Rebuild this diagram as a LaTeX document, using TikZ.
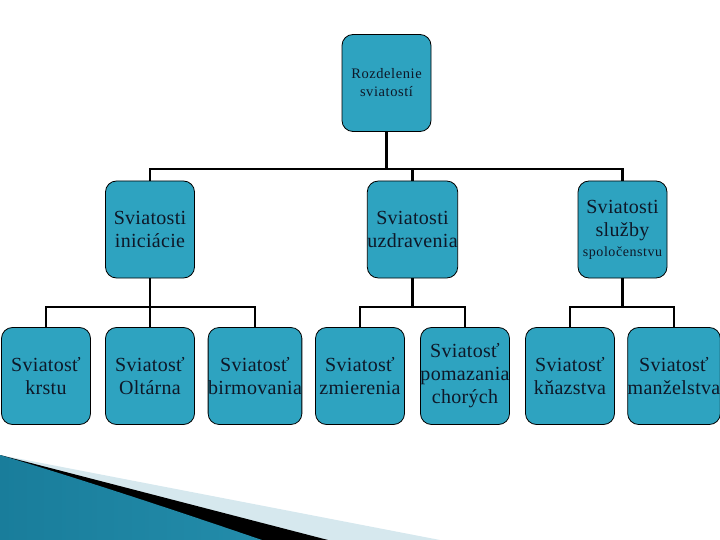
\documentclass[tikz,border=0pt]{standalone}
\usepackage{fontspec}
\setmainfont{Liberation Serif}
\definecolor{boxblue}{RGB}{46,163,192}
\definecolor{txt}{RGB}{14,24,40}
\definecolor{swdark}{RGB}{25,125,155}
\definecolor{swlight}{RGB}{95,190,220}
\definecolor{swright}{RGB}{35,140,170}
\definecolor{swpale}{RGB}{214,232,238}
\begin{document}
\begin{tikzpicture}[x=1pt,y=-1pt,
  box/.style={draw=black,line width=0.8pt,fill=boxblue,rounded corners=11pt,
    minimum width=89pt,minimum height=97pt,align=center,inner sep=0pt,text=txt,
    font=\fontsize{20}{23}\selectfont\addfontfeature{LetterSpace=1.5}},
  topbox/.style={box,font=\fontsize{14.5}{18}\selectfont\addfontfeature{LetterSpace=4}},
  conn/.style={draw=black,line width=2.8pt}]
\useasboundingbox (0,0) rectangle (720,540);
% decorative swoosh
\fill[swpale] (0,455) -- (440,540) -- (0,540) -- cycle;
\fill[black] (0,455) -- (328,540) -- (0,540) -- cycle;
\shade[left color=swdark,middle color=swlight,right color=swright]
  (0,455) .. controls (90,482) and (180,512) .. (262,540) -- (0,540) -- cycle;
% nodes
\node[topbox] (top) at (386.5,83) {Rozdelenie\\ sviatostí};
\node[box] (ini) at (150,229.5) {Sviatosti\\ iniciácie};
\node[box] (uzd) at (412.5,229.5) {Sviatosti\\ uzdravenia};
\node[box] (slu) at (622.5,229.5) {Sviatosti\\ služby\\[-3pt]{\fontsize{14}{16}\selectfont\addfontfeature{LetterSpace=4}spoločenstvu}};
\node[box] (krs) at (46,376) {Sviatosť\\ krstu};
\node[box] (olt) at (150,376) {Sviatosť\\ Oltárna};
\node[box] (bir) at (255,376) {Sviatosť\\ birmovania};
\node[box] (zmi) at (360,376) {Sviatosť\\ zmierenia};
\node[box] (pom) at (465,376) {Sviatosť\\ pomazania\\ chorých};
\node[box] (kna) at (570,376) {Sviatosť\\ kňazstva};
\node[box] (man) at (674,376) {Sviatosť\\ manželstva};
% bus coordinates
\coordinate (bus) at (386.5,169);
\coordinate (busA) at (150,307);
\coordinate (busB) at (412.5,307);
\coordinate (busC) at (622.5,307);
% connectors
\draw[conn] (top.south) -- (bus);
\draw[conn] (ini.north) |- (bus) -| (slu.north);
\draw[conn] (uzd.north) -- (uzd.north |- bus);
\draw[conn] (ini.south) -- (busA);
\draw[conn] (krs.north) |- (busA) -| (bir.north);
\draw[conn] (olt.north) -- (olt.north |- busA);
\draw[conn] (uzd.south) -- (busB);
\draw[conn] (zmi.north) |- (busB) -| (pom.north);
\draw[conn] (slu.south) -- (busC);
\draw[conn] (kna.north) |- (busC) -| (man.north);
\end{tikzpicture}
\end{document}
